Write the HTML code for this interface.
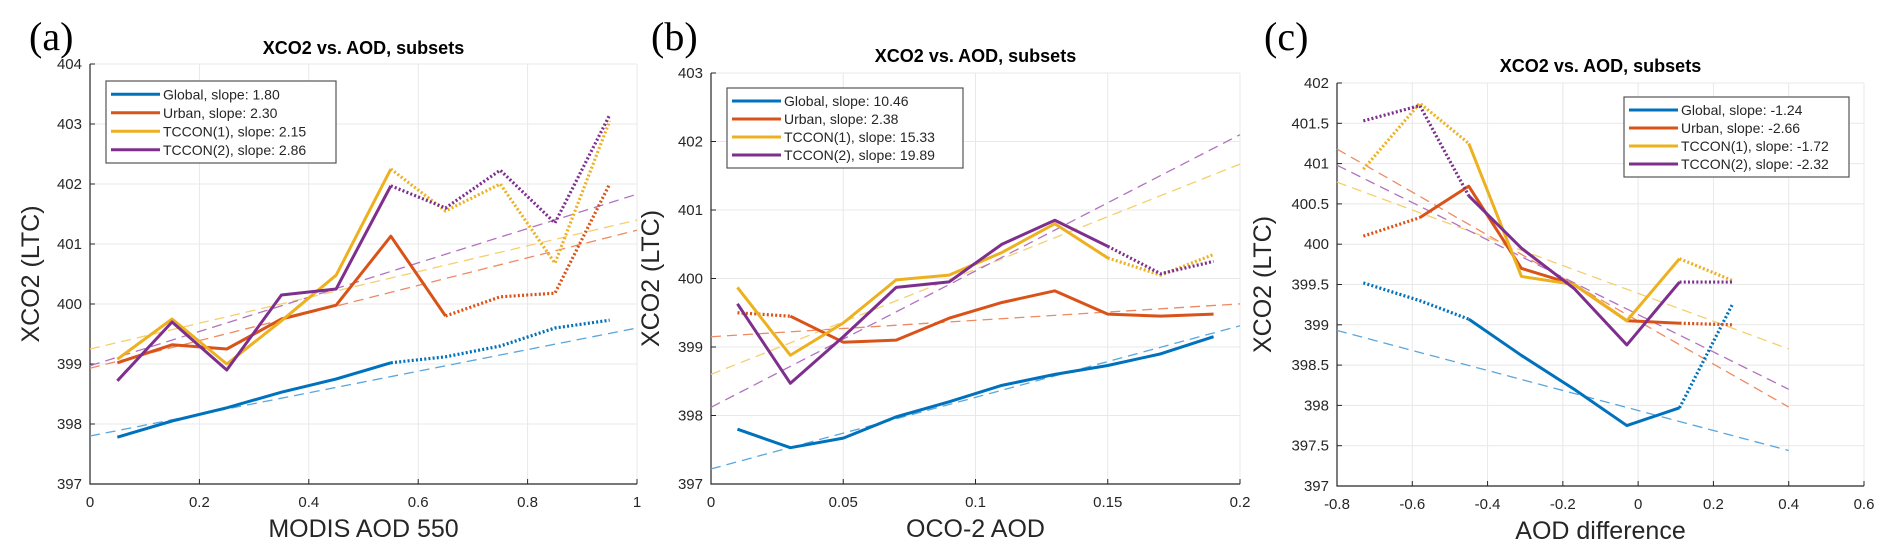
<!DOCTYPE html>
<html><head><meta charset="utf-8"><style>
html,body{margin:0;padding:0;background:#fff;}
svg{display:block;font-family:"Liberation Sans",sans-serif;}
</style></head><body>
<svg id="fig" width="1892" height="557" viewBox="0 0 1892 557" xmlns="http://www.w3.org/2000/svg"></svg>
<script>
// ---- Panel (a) data ----
const aX = [0.05,0.15,0.25,0.35,0.45,0.55,0.65,0.75,0.85,0.95];
const aGlobal = [397.78,398.05,398.27,398.53,398.75,399.02,399.12,399.3,399.6,399.73];
const aUrban  = [399.02,399.32,399.25,399.75,399.98,401.13,399.8,400.12,400.18,402.0];
const aT1     = [399.08,399.75,399.0,399.72,400.48,402.25,401.55,402.0,400.68,403.05];
const aT2     = [398.72,399.7,398.9,400.15,400.25,401.97,401.6,402.23,401.35,403.15];
const aSolidG = [1,1,1,1,1,0,0,0,0];
const aSolidU = [1,1,1,1,1,1,0,0,0];
const aSolidT1= [1,1,1,1,1,0,0,0,0];
const aSolidT2= [1,1,1,1,1,0,0,0,0];
const aFitX = [0,1];
const aFitG = [397.8,399.6];
const aFitU = [398.93,401.23];
const aFitT1= [399.25,401.4];
const aFitT2= [398.97,401.83];
const aXTicks = [0,0.2,0.4,0.6,0.8,1];
const aXTickLabels = ["0","0.2","0.4","0.6","0.8","1"];
const aYTicks = [397,398,399,400,401,402,403,404];
const aLegend = ["Global, slope: 1.80","Urban, slope: 2.30","TCCON(1), slope: 2.15","TCCON(2), slope: 2.86"];

// ---- Panel (b) data ----
const bX = [0.01,0.03,0.05,0.07,0.09,0.11,0.13,0.15,0.17,0.19];
const bGlobal = [397.8,397.53,397.67,397.98,398.2,398.44,398.6,398.73,398.9,399.15];
const bUrban  = [399.5,399.45,399.07,399.1,399.42,399.65,399.82,399.48,399.45,399.48];
const bT1     = [399.87,398.88,399.35,399.98,400.05,400.38,400.8,400.3,400.05,400.35];
const bT2     = [399.63,398.47,399.15,399.87,399.95,400.5,400.85,400.47,400.07,400.25];
const bSolidG = [1,1,1,1,1,1,1,1,1];
const bSolidU = [0,1,1,1,1,1,1,1,1];
const bSolidT1= [1,1,1,1,1,1,1,0,0];
const bSolidT2= [1,1,1,1,1,1,1,0,0];
const bFitX = [0,0.2];
const bFitG = [397.22,399.31];
const bFitU = [399.15,399.63];
const bFitT1= [398.6,401.67];
const bFitT2= [398.12,402.1];
const bXTicks = [0,0.05,0.1,0.15,0.2];
const bXTickLabels = ["0","0.05","0.1","0.15","0.2"];
const bYTicks = [397,398,399,400,401,402,403];
const bLegend = ["Global, slope: 10.46","Urban, slope: 2.38","TCCON(1), slope: 15.33","TCCON(2), slope: 19.89"];

// ---- Panel (c) data ----
const cX = [-0.73,-0.58,-0.45,-0.31,-0.17,-0.03,0.11,0.25];
const cGlobal = [399.52,399.3,399.07,398.62,398.2,397.75,397.97,399.25];
const cUrban  = [400.1,400.33,400.72,399.7,399.5,399.05,399.02,399.0];
const cT1     = [400.93,401.75,401.25,399.6,399.5,399.05,399.82,399.55];
const cT2     = [401.53,401.72,400.6,399.95,399.45,398.75,399.53,399.53];
const cSolidG = [0,0,1,1,1,1,0];
const cSolidU = [0,1,1,1,1,1,0];
const cSolidT1= [0,0,1,1,1,1,0];
const cSolidT2= [0,0,1,1,1,1,0];
const cFitX = [-0.8,0.4];
const cFitG = [398.93,397.44];
const cFitU = [401.18,397.98];
const cFitT1= [400.77,398.7];
const cFitT2= [400.98,398.2];
const cXTicks = [-0.8,-0.6,-0.4,-0.2,0,0.2,0.4,0.6];
const cXTickLabels = ["-0.8","-0.6","-0.4","-0.2","0","0.2","0.4","0.6"];
const cYTicks = [397,397.5,398,398.5,399,399.5,400,400.5,401,401.5,402];
const cLegend = ["Global, slope: -1.24","Urban, slope: -2.66","TCCON(1), slope: -1.72","TCCON(2), slope: -2.32"];

const COLORS = ["#0072BD","#D95319","#EDB120","#7E2F8E"];
const FITCOLORS = ["#5aa6dc","#ee8a62","#f5cf6e","#b172c0"];
const NS = "http://www.w3.org/2000/svg";
const fig = document.getElementById("fig");

function mk(tag, attrs, parent){
  const e = document.createElementNS(NS, tag);
  for (const k in attrs) e.setAttribute(k, attrs[k]);
  (parent||fig).appendChild(e);
  return e;
}

function drawPanel(p){
  const g = mk("g",{});
  
  
  const sx = v => p.x0 + (v - p.xmin)/(p.xmax - p.xmin)*(p.x1 - p.x0);
  const sy = v => p.yb - (v - p.ymin)/(p.ymax - p.ymin)*(p.yb - p.yt);
  p.xTicks.forEach(t=>{
    const l = mk("line",{x1:sx(t),x2:sx(t),y1:p.yt,y2:p.yb,stroke:"#e8e8e8","stroke-width":1},g);
    
    
  });
  p.yTicks.forEach(t=>{
    const l = mk("line",{x1:p.x0,x2:p.x1,y1:sy(t),y2:sy(t),stroke:"#e8e8e8","stroke-width":1},g);
    
    
  });
  const ax = mk("path",{d:`M${p.x0},${p.yt} V${p.yb} H${p.x1}`,fill:"none",stroke:"#262626","stroke-width":1.2},g);
  
  
  p.xTicks.forEach((t,i)=>{
    mk("line",{x1:sx(t),x2:sx(t),y1:p.yb,y2:p.yb-5,stroke:"#262626","stroke-width":1},g);
    const tx = mk("text",{x:sx(t),y:p.yb+23,"font-size":15,fill:"#262626","text-anchor":"middle"},g);
    tx.textContent = p.xLabels[i];
    
    
  });
  p.yTicks.forEach(t=>{
    mk("line",{x1:p.x0,x2:p.x0+5,y1:sy(t),y2:sy(t),stroke:"#262626","stroke-width":1},g);
    const tx = mk("text",{x:p.x0-8,y:sy(t)+5,"font-size":15,fill:"#262626","text-anchor":"end"},g);
    tx.textContent = String(t);
    
    
  });
  p.fits.forEach((f,k)=>{
    const l = mk("line",{x1:sx(p.fitX[0]),y1:sy(f[0]),x2:sx(p.fitX[1]),y2:sy(f[1]),stroke:FITCOLORS[k],"stroke-width":1.3,"stroke-dasharray":"10,6"},g);
    
    
  });
  p.series.forEach((s,k)=>{
    const sg = mk("g",{},g);
    
    
    let cur = null, pts = [];
    const flush = ()=>{
      if (pts.length>1){
        const attrs = {points:pts.join(" "),fill:"none",stroke:COLORS[k],"stroke-width":cur?3:3.2,"stroke-linejoin":"round"};
        if(!cur) attrs["stroke-dasharray"]="2,2.2";
        const pl = mk("polyline",attrs,sg);
        
        
      }
    };
    for (let i=0;i<p.xs.length-1;i++){
      const st = s.solid[i];
      const a = sx(p.xs[i])+","+sy(s.y[i]), b = sx(p.xs[i+1])+","+sy(s.y[i+1]);
      if (st!==cur){ flush(); cur=st; pts=[a]; }
      pts.push(b);
    }
    flush();
  });
  const lg = mk("g",{},g);
  
  
  mk("rect",{x:p.leg[0],y:p.leg[1],width:p.leg[2],height:p.leg[3],fill:"#fff",stroke:"#555","stroke-width":1.2},lg);
  const step = (p.leg[3]-8)/4;
  p.legend.forEach((t,k)=>{
    const yy = p.leg[1] + 4 + step*(k+0.5);
    const e = mk("g",{},lg);
    
    
    mk("line",{x1:p.leg[0]+5,x2:p.leg[0]+54,y1:yy,y2:yy,stroke:COLORS[k],"stroke-width":3},e);
    const tx = mk("text",{x:p.leg[0]+57,y:yy+5,"font-size":14,fill:"#262626"},e);
    tx.textContent = t;
  });
  const ti = mk("text",{x:(p.x0+p.x1)/2,y:p.titleY,"font-size":18,"font-weight":"bold","text-anchor":"middle",fill:"#000"},g);
  ti.textContent = "XCO2 vs. AOD, subsets";
  
  
  const xl = mk("text",{x:(p.x0+p.x1)/2,y:p.yb+53,"font-size":25,"text-anchor":"middle",fill:"#262626"},g);
  xl.textContent = p.xTitle;
  
  
  const yc = (p.yt+p.yb)/2;
  const yl = mk("text",{x:p.yLabX,y:yc,"font-size":25,"text-anchor":"middle",fill:"#262626",transform:`rotate(-90 ${p.yLabX} ${yc})`},g);
  yl.textContent = "XCO2 (LTC)";
  
  
  const pl = mk("text",{x:p.labX,y:50,"font-size":40,"font-family":"Liberation Serif, serif",fill:"#000"},g);
  pl.textContent = p.panelLabel;
  
  
}

drawPanel({key:"a",x0:90,x1:637,yt:64,yb:484,xmin:0,xmax:1,ymin:397,ymax:404,
  xTicks:aXTicks,xLabels:aXTickLabels,yTicks:aYTicks,xs:aX,
  series:[{y:aGlobal,solid:aSolidG},{y:aUrban,solid:aSolidU},{y:aT1,solid:aSolidT1},{y:aT2,solid:aSolidT2}],
  fitX:aFitX,fits:[aFitG,aFitU,aFitT1,aFitT2],legend:aLegend,leg:[106,81,230,82],
  titleY:54,xTitle:"MODIS AOD 550",yLabX:39,labX:29,panelLabel:"(a)"});
drawPanel({key:"b",x0:711,x1:1240,yt:73,yb:484,xmin:0,xmax:0.2,ymin:397,ymax:403,
  xTicks:bXTicks,xLabels:bXTickLabels,yTicks:bYTicks,xs:bX,
  series:[{y:bGlobal,solid:bSolidG},{y:bUrban,solid:bSolidU},{y:bT1,solid:bSolidT1},{y:bT2,solid:bSolidT2}],
  fitX:bFitX,fits:[bFitG,bFitU,bFitT1,bFitT2],legend:bLegend,leg:[727,88,236,80],
  titleY:62,xTitle:"OCO-2 AOD",yLabX:659,labX:651,panelLabel:"(b)"});
drawPanel({key:"c",x0:1337,x1:1864,yt:83,yb:486,xmin:-0.8,xmax:0.6,ymin:397,ymax:402,
  xTicks:cXTicks,xLabels:cXTickLabels,yTicks:cYTicks,xs:cX,
  series:[{y:cGlobal,solid:cSolidG},{y:cUrban,solid:cSolidU},{y:cT1,solid:cSolidT1},{y:cT2,solid:cSolidT2}],
  fitX:cFitX,fits:[cFitG,cFitU,cFitT1,cFitT2],legend:cLegend,leg:[1624,97,225,80],
  titleY:72,xTitle:"AOD difference",yLabX:1271,labX:1264,panelLabel:"(c)"});
</script>
</body></html>
